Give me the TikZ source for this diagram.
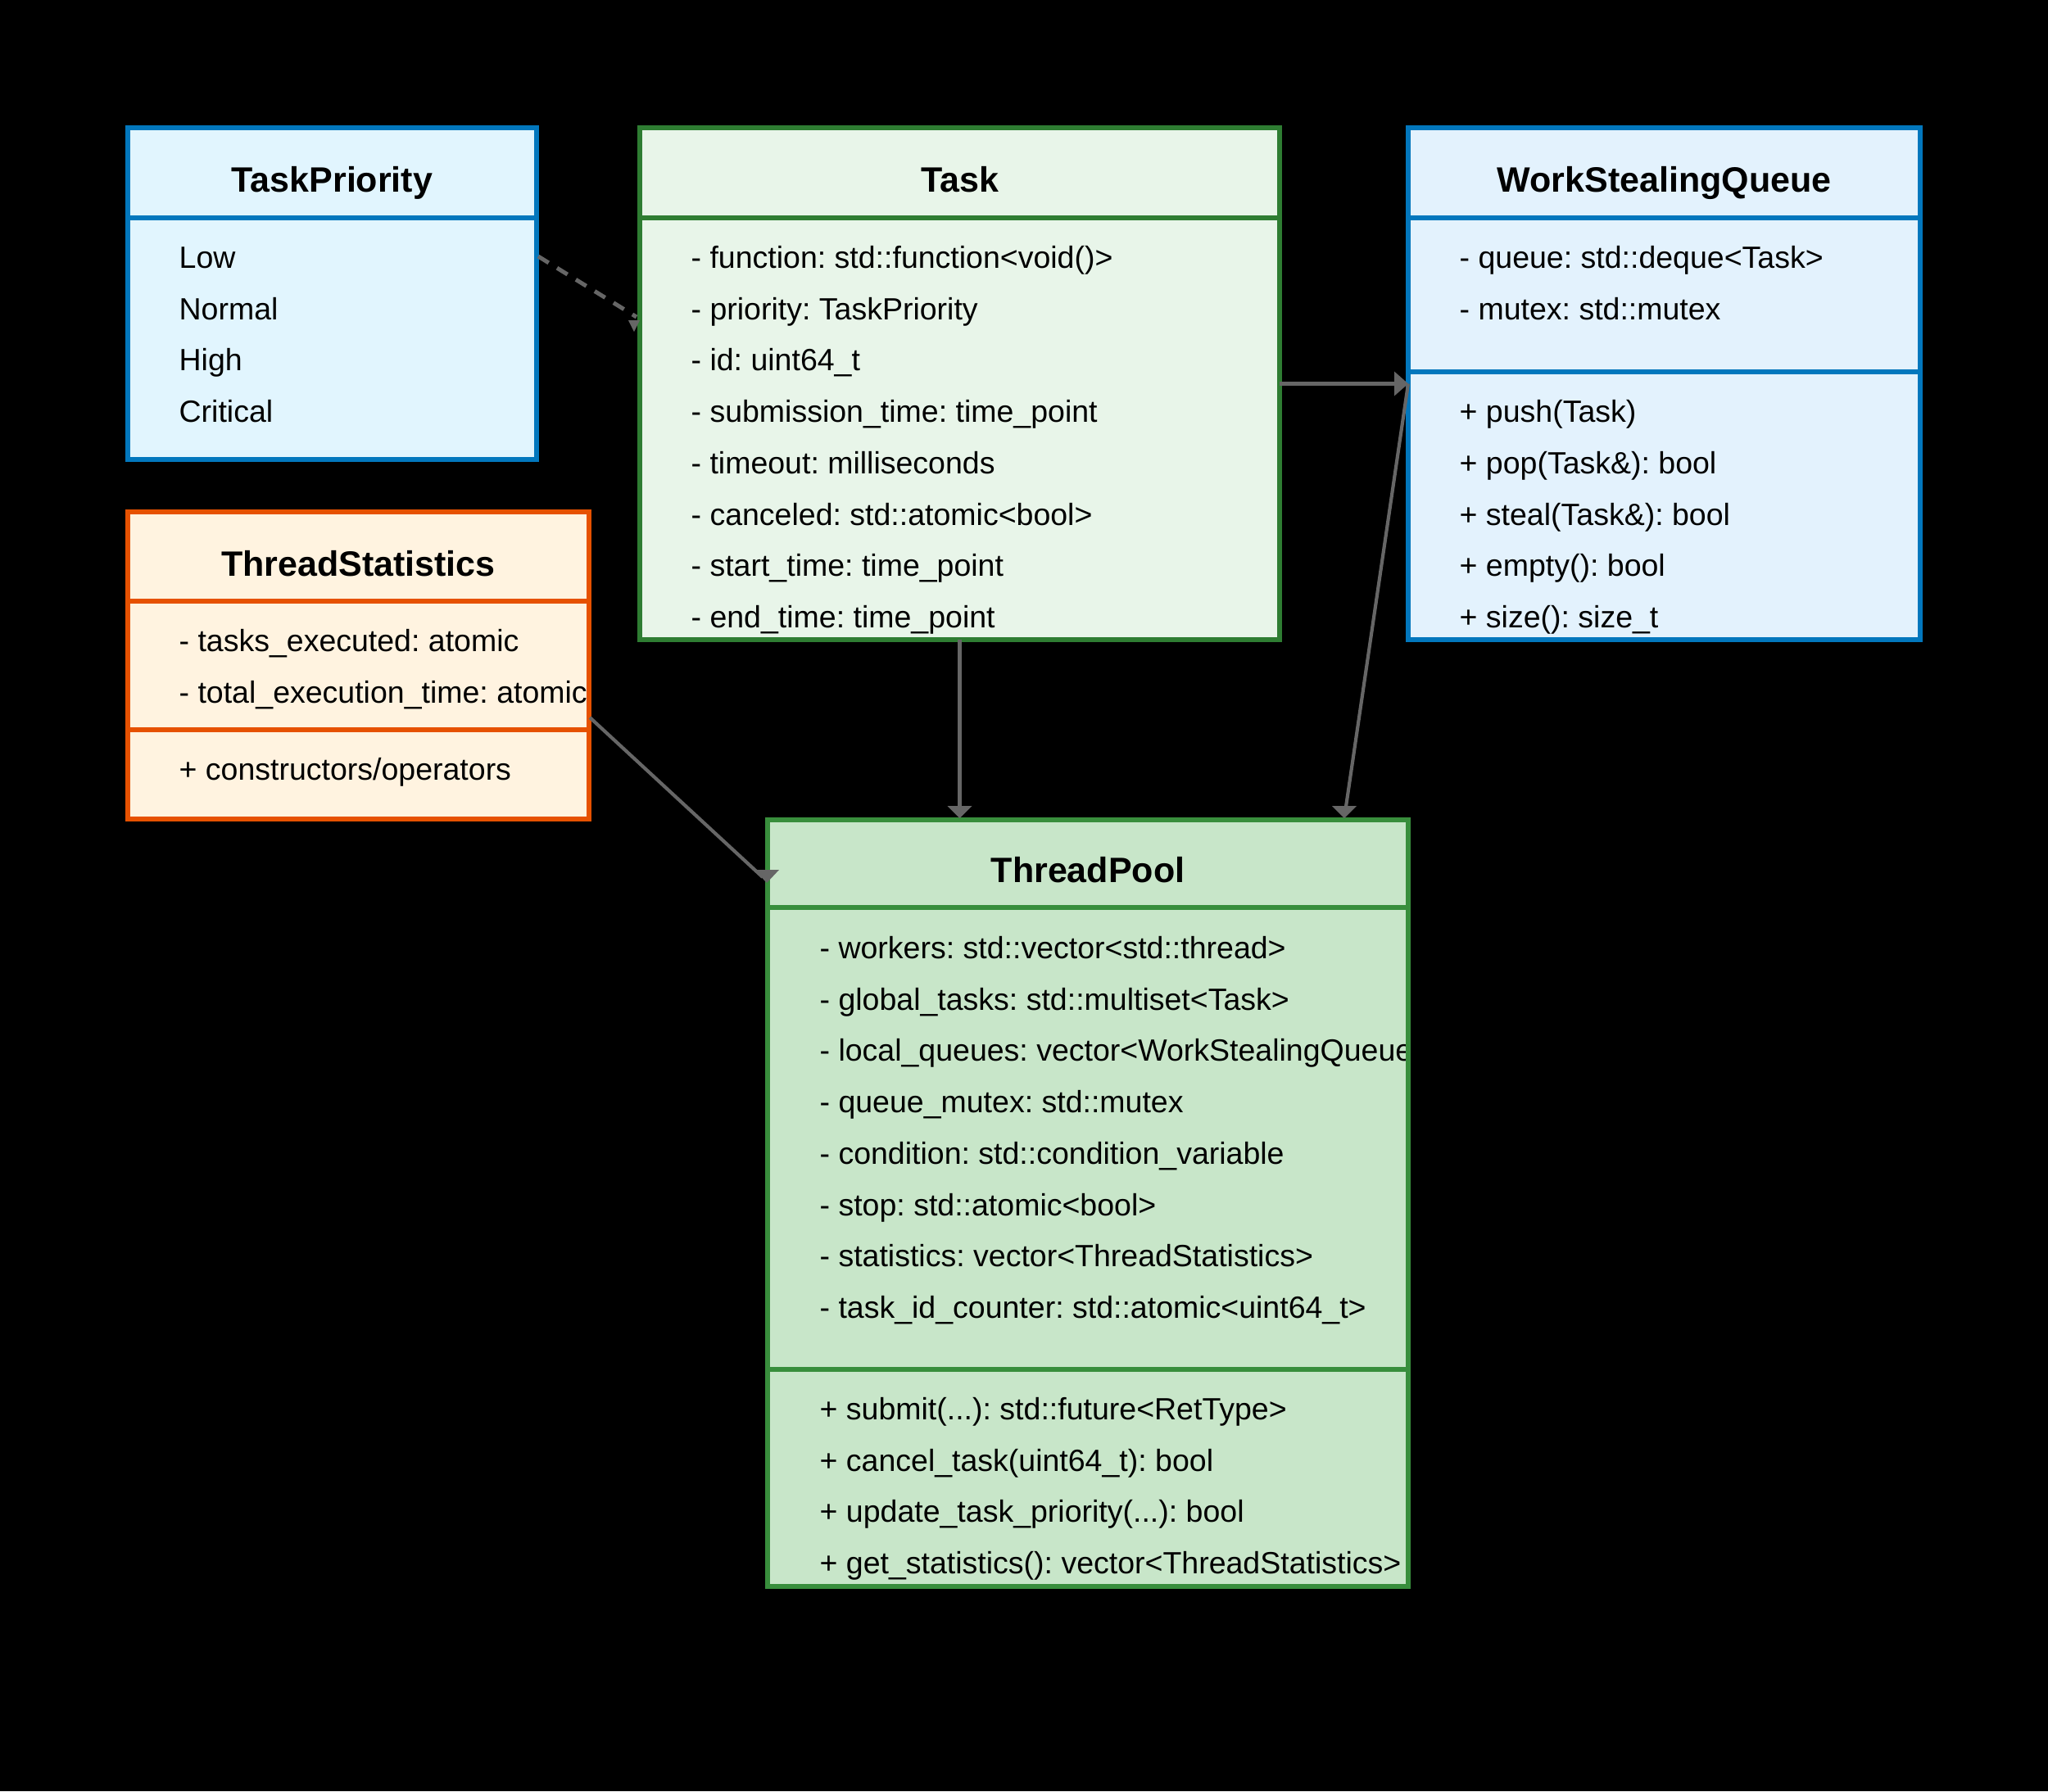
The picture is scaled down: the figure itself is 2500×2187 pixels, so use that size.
\documentclass[tikz,border=0pt]{standalone}
\usepackage{fontspec}
\setmainfont{Liberation Sans}
\usetikzlibrary{fit,calc}
\definecolor{tpfill}{HTML}{E1F5FE}
\definecolor{tpline}{HTML}{0277BD}
\definecolor{wsfill}{HTML}{E3F2FD}
\definecolor{wsline}{HTML}{0277BD}
\definecolor{tkfill}{HTML}{E8F5E9}
\definecolor{tkline}{HTML}{2E7D32}
\definecolor{plfill}{HTML}{C8E6C9}
\definecolor{plline}{HTML}{388E3C}
\definecolor{stfill}{HTML}{FFF3E0}
\definecolor{stline}{HTML}{E65100}
\definecolor{arrowgray}{HTML}{666666}
\frenchspacing
\begin{document}
\begin{tikzpicture}[x=0.3pt,y=-0.3pt,
  boxfill/.style={inner sep=0pt, outer sep=0pt, draw=none},
  txt/.style={inner sep=0pt, anchor=base west, text=black, font=\frenchspacing\fontsize{11.25}{13}\selectfont},
  ttl/.style={inner sep=0pt, anchor=base, text=black, font=\fontsize{12.9}{15}\selectfont\bfseries},
  border/.style={line width=1.8pt},
  conn/.style={draw=arrowgray, line width=1.25pt},
  dconn/.style={draw=arrowgray, line width=1.5pt, dash pattern=on 4.5pt off 3.6pt},
  head/.style={fill=arrowgray}]
\fill[black] (0,0) rectangle (2500,2187);
\useasboundingbox (0,0) rectangle (2500,2187);

% ---------- TaskPriority ----------
\node[boxfill, fill=tpfill, fit={(156,156) (655,561)}] (tp) {};
\begin{scope}
\clip (tp.north west) rectangle (tp.south east);
\node[ttl] (tpT) at ($(tp.north)+(0,78)$) {TaskPriority};
\node[txt] (tp1) at (218,327.5) {Low};
\node[txt] (tp2) at (218,390.2) {Normal};
\node[txt] (tp3) at (218,452.9) {High};
\node[txt] (tp4) at (218,515.6) {Critical};
\end{scope}
\draw[border, draw=tpline] (tp.north west) rectangle (tp.south east);
\draw[border, draw=tpline] (tp.west |- 0,266) -- (tp.east |- 0,266);

% ---------- Task ----------
\node[boxfill, fill=tkfill, fit={(781,156) (1562,781)}] (task) {};
\begin{scope}
\clip (task.north west) rectangle (task.south east);
\node[ttl] (taskT) at ($(task.north)+(0,78)$) {Task};
\node[txt] (tk1) at (843,327.5) {- function: std::function<void()>};
\node[txt] (tk2) at (843,390.2) {- priority: TaskPriority};
\node[txt] (tk3) at (843,452.9) {- id: uint64\_t};
\node[txt] (tk4) at (843,515.6) {- submission\_time: time\_point};
\node[txt] (tk5) at (843,578.3) {- timeout: milliseconds};
\node[txt] (tk6) at (843,641) {- canceled: std::atomic<bool>};
\node[txt] (tk7) at (843,703.7) {- start\_time: time\_point};
\node[txt] (tk8) at (843,766.4) {- end\_time: time\_point};
\end{scope}
\draw[border, draw=tkline] (task.north west) rectangle (task.south east);
\draw[border, draw=tkline] (task.west |- 0,266) -- (task.east |- 0,266);

% ---------- WorkStealingQueue ----------
\node[boxfill, fill=wsfill, fit={(1719,156) (2344,781)}] (wsq) {};
\begin{scope}
\clip (wsq.north west) rectangle (wsq.south east);
\node[ttl] (wsqT) at ($(wsq.north)+(0,78)$) {WorkStealingQueue};
\node[txt] (ws1) at (1781,327.5) {- queue: std::deque<Task>};
\node[txt] (ws2) at (1781,390.2) {- mutex: std::mutex};
\node[txt] (ws3) at (1781,515.6) {+ push(Task)};
\node[txt] (ws4) at (1781,578.3) {+ pop(Task\&): bool};
\node[txt] (ws5) at (1781,641) {+ steal(Task\&): bool};
\node[txt] (ws6) at (1781,703.7) {+ empty(): bool};
\node[txt] (ws7) at (1781,766.4) {+ size(): size\_t};
\end{scope}
\draw[border, draw=wsline] (wsq.north west) rectangle (wsq.south east);
\draw[border, draw=wsline] (wsq.west |- 0,266) -- (wsq.east |- 0,266);
\draw[border, draw=wsline] (wsq.west |- 0,454) -- (wsq.east |- 0,454);

% ---------- ThreadStatistics ----------
\node[boxfill, fill=stfill, fit={(156,625) (719,1000)}] (ts) {};
\begin{scope}
\clip (ts.north west) rectangle (ts.south east);
\node[ttl] (tsT) at ($(ts.north)+(0,78)$) {ThreadStatistics};
\node[txt] (ts1) at (218,795.5) {- tasks\_executed: atomic};
\node[txt] (ts2) at (218,858.5) {- total\_execution\_time: atomic};
\node[txt] (ts3) at (218,952.5) {+ constructors/operators};
\end{scope}
\draw[border, draw=stline] (ts.north west) rectangle (ts.south east);
\draw[border, draw=stline] (ts.west |- 0,734) -- (ts.east |- 0,734);
\draw[border, draw=stline] (ts.west |- 0,891) -- (ts.east |- 0,891);

% ---------- ThreadPool ----------
\node[boxfill, fill=plfill, fit={(937,1001) (1719,1937)}] (tpool) {};
\begin{scope}
\clip (tpool.north west) rectangle (tpool.south east);
\node[ttl] (tpoolT) at ($(tpool.north)+(0,76.5)$) {ThreadPool};
\node[txt] (pl1) at (1000,1170.5) {- workers: std::vector<std::thread>};
\node[txt] (pl2) at (1000,1233.2) {- global\_tasks: std::multiset<Task>};
\node[txt] (pl3) at (1000,1295.9) {- local\_queues: vector<WorkStealingQueue};
\node[txt] (pl4) at (1000,1358.6) {- queue\_mutex: std::mutex};
\node[txt] (pl5) at (1000,1421.3) {- condition: std::condition\_variable};
\node[txt] (pl6) at (1000,1484) {- stop: std::atomic<bool>};
\node[txt] (pl7) at (1000,1546.7) {- statistics: vector<ThreadStatistics>};
\node[txt] (pl8) at (1000,1609.4) {- task\_id\_counter: std::atomic<uint64\_t>};
\node[txt] (pl9) at (1000,1733.5) {+ submit(...): std::future<RetType>};
\node[txt] (pl10) at (1000,1796.2) {+ cancel\_task(uint64\_t): bool};
\node[txt] (pl11) at (1000,1858.9) {+ update\_task\_priority(...): bool};
\node[txt] (pl12) at (1000,1921.6) {+ get\_statistics(): vector<ThreadStatistics>};
\end{scope}
\draw[border, draw=plline] (tpool.north west) rectangle (tpool.south east);
\draw[border, draw=plline] (tpool.west |- 0,1108) -- (tpool.east |- 0,1108);
\draw[border, draw=plline] (tpool.west |- 0,1672) -- (tpool.east |- 0,1672);

% ---------- Connectors ----------
% TaskPriority -> Task (dashed)
\coordinate (a1s) at ($(tp.north east)+(2,157)$);
\coordinate (a1e) at ($(task.north west)+(-4,231)$);
\draw[dconn] (a1s) -- (a1e);
\fill[head] ($(task.north west)+(-14,235)$) -- ++(14,0) -- ++(-7,14) -- cycle;

% Task -> ThreadPool
\coordinate (a2t) at ($(task.south |- tpool.north)+(0,-2)$);
\draw[conn] (task.south) -- ($(a2t)+(0,-14)$);
\fill[head] ($(a2t)+(-15,-15)$) -- ++(30,0) -- (a2t) -- cycle;

% Task -> WorkStealingQueue
\draw[conn] (task.east) -- ($(wsq.west)+(-15,0)$);
\fill[head] (wsq.west) -- ++(-17,-15) -- ++(0,30) -- cycle;

% WorkStealingQueue -> ThreadPool
\coordinate (a4t) at ($(tpool.north east)+(-78,-2)$);
\draw[conn] (wsq.west) -- ($(a4t)+(2,-14)$);
\fill[head] ($(a4t)+(-15,-15)$) -- ++(30,0) -- (a4t) -- cycle;

% ThreadStatistics -> ThreadPool
\coordinate (a5s) at ($(ts.north east)+(1,251)$);
\coordinate (a5t) at ($(tpool.north west)+(-1,77)$);
\draw[conn] (a5s) -- ($(a5t)+(-5,-7)$);
\fill[head] ($(a5t)+(-15,-16)$) -- ++(30,0) -- (a5t) -- cycle;
\end{tikzpicture}
\end{document}
